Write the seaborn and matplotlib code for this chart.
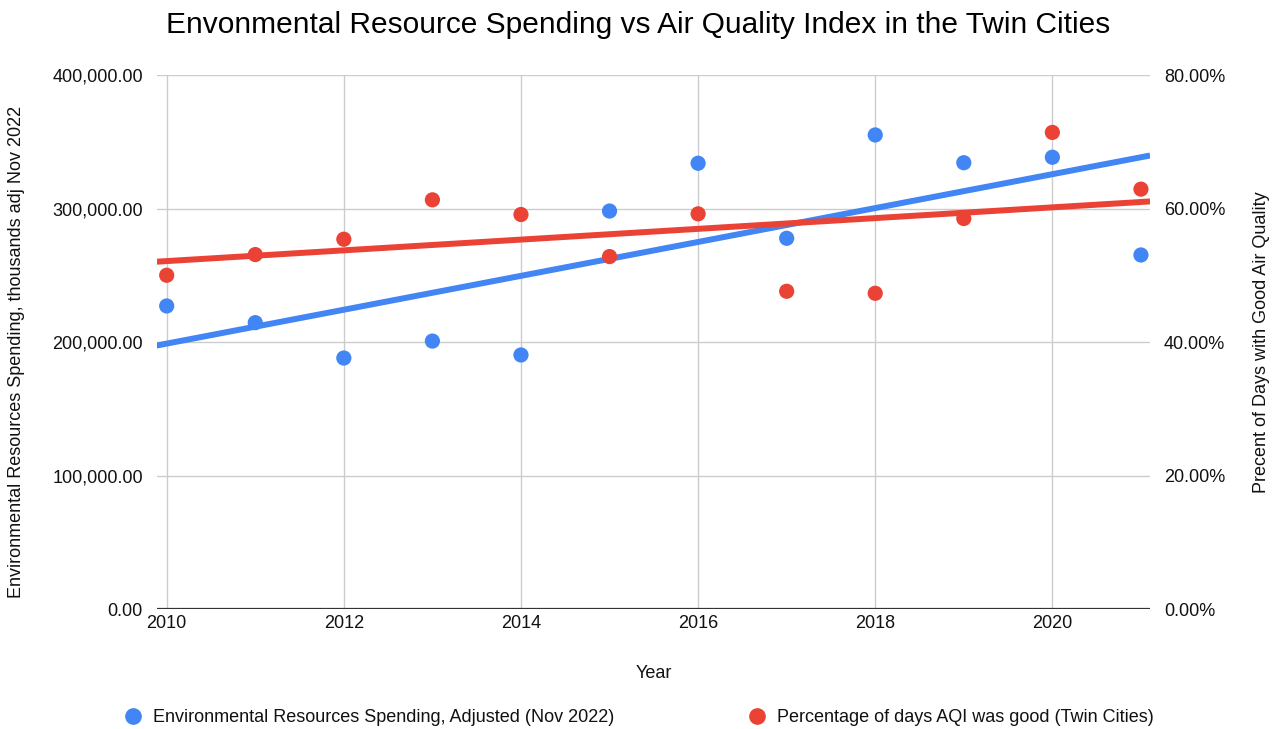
import pandas as pd
import matplotlib.pyplot as plt
import seaborn as sns
from matplotlib.lines import Line2D
from matplotlib.ticker import FuncFormatter

# --- datos ---
years = [2010, 2011, 2012, 2013, 2014, 2015, 2016, 2017, 2018, 2019, 2020, 2021]
spending = [227000, 214500, 188000, 200700, 190300, 298100,
            333900, 277700, 355100, 334300, 338400, 265200]
pct_good = [50.0, 53.1, 55.4, 61.3, 59.1, 52.8,
            59.2, 47.6, 47.3, 58.5, 71.4, 62.9]
x_ticks = [2010, 2012, 2014, 2016, 2018, 2020]
left_ticks = [0, 100000, 200000, 300000, 400000]
right_ticks = [0, 20, 40, 60, 80]

label_spend = 'Environmental Resources Spending, Adjusted (Nov 2022)'
label_pct = 'Percentage of days AQI was good (Twin Cities)'

df = pd.DataFrame({'year': years, 'spending': spending, 'pct': pct_good})

blue = '#4285F4'
red = '#EA4335'

sns.set_style('white')
plt.rcParams['font.family'] = ['Liberation Sans', 'DejaVu Sans']

fig = plt.figure(figsize=(12.76, 7.29), dpi=100)
ax = fig.add_axes([0.1228, 0.1646, 0.7785, 0.7325])
ax2 = ax.twinx()

ax.set_xlim(2009.887, 2021.103)
ax.set_ylim(0, 400000)
ax2.set_ylim(0, 80)

# --- lineas de tendencia (ocupan todo el ancho) ---
sns.regplot(data=df, x='year', y='spending', ax=ax, scatter=False, ci=None,
            truncate=False, color=blue, line_kws={'lw': 4.3, 'solid_capstyle': 'butt'})
sns.regplot(data=df, x='year', y='pct', ax=ax2, scatter=False, ci=None,
            truncate=False, color=red, line_kws={'lw': 4.3, 'solid_capstyle': 'butt'})

# --- puntos ---
sns.scatterplot(data=df, x='year', y='spending', ax=ax, color=blue, s=120,
                edgecolor='none', legend=False, zorder=3)
sns.scatterplot(data=df, x='year', y='pct', ax=ax2, color=red, s=120,
                edgecolor='none', legend=False, zorder=3)

ax.set_xlim(2009.887, 2021.103)
ax2.set_xlim(2009.887, 2021.103)
ax.set_ylim(0, 400000)
ax2.set_ylim(0, 80)

# --- rejilla y ejes ---
ax.set_xticks(x_ticks)
ax.set_yticks(left_ticks)
ax2.set_yticks(right_ticks)
ax.yaxis.set_major_formatter(FuncFormatter(lambda v, p: f'{v:,.2f}'))
ax2.yaxis.set_major_formatter(FuncFormatter(lambda v, p: f'{v:.2f}%'))
for a in (ax, ax2):
    for s in a.spines.values():
        s.set_visible(False)
    a.tick_params(length=0, labelsize=13, colors='#111111')
ax.tick_params(axis='y', pad=10)
ax2.tick_params(axis='y', pad=10)
ax.tick_params(axis='x', pad=4)

ax.grid(True, axis='both', color='#cccccc', lw=1)
ax.set_axisbelow(True)
ax.axhline(0, color='#333333', lw=1.6, zorder=2)

ax.set_xlabel('Year', fontsize=13, color='#111111')
ax.set_ylabel('Environmental Resources Spending, thousands adj Nov 2022', fontsize=13, color='#111111')
ax2.set_ylabel('Precent of Days with Good Air Quality', fontsize=13, color='#111111')
ax.xaxis.set_label_coords(0.5, -0.105)
ax.yaxis.set_label_coords(-0.1326, 0.482)
ax2.yaxis.set_label_coords(1.1037, 0.5)

fig.text(0.5, 0.966, 'Envonmental Resource Spending vs Air Quality Index in the Twin Cities',
         ha='center', va='center', fontsize=21.5, color='#000000')

handles = [Line2D([], [], marker='o', ls='', color=blue, markersize=11),
           Line2D([], [], marker='o', ls='', color=red, markersize=11)]
fig.legend(handles, [label_spend, label_pct], loc='center',
           bbox_to_anchor=(0.5, 1 - 718 / 729), ncol=2, frameon=False,
           fontsize=13, handletextpad=0.5, columnspacing=7.3, handlelength=1.2,
           labelcolor='#111111')

fig.savefig('out.png', dpi=100)
